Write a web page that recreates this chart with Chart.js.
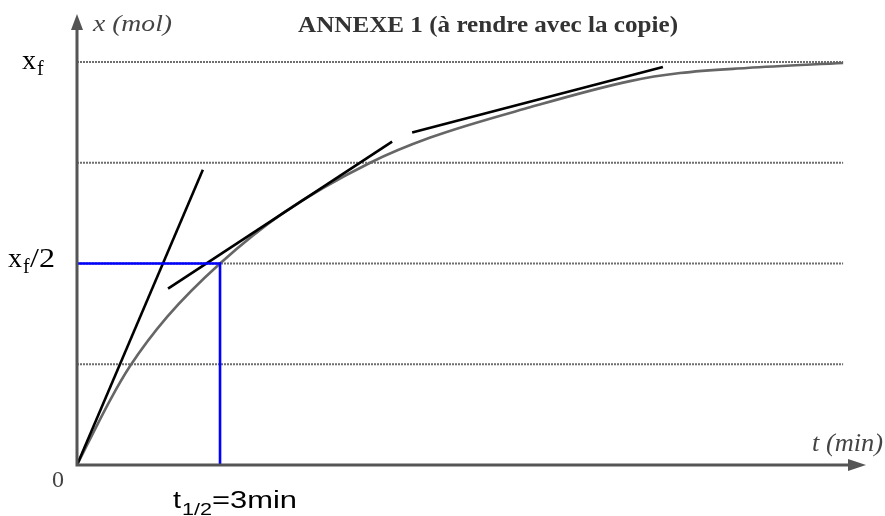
<!DOCTYPE html>
<html>
<head>
<meta charset="utf-8">
<title>Annexe 1</title>
<script src="https://cdn.jsdelivr.net/npm/chart.js@4"></script>
<style>
  html, body { margin: 0; padding: 0; background: #fff; }
  #wrap { width: 885px; height: 516px; }
</style>
</head>
<body>
<div id="wrap"><canvas id="chart" width="885" height="516"></canvas></div>
<script>
// x(t) curve (t in min, x in grid units, xf = 4)
var CURVE_T = [0, 0.69, 1.11, 1.89, 3.00, 4.32, 6.15, 7.41, 9.50, 11.60, 12.65, 14.05, 16.07];
var CURVE_X = [0, 0.64, 0.98, 1.47, 2.00, 2.50, 3.00, 3.25, 3.55, 3.81, 3.89, 3.94, 3.99];

// hand drawn tangents: [start, end]
var TANGENT_T = [[0, 2.64], [1.91, 6.61], [7.03, 12.29]];
var TANGENT_X = [[0, 2.93], [1.75, 3.21], [3.30, 3.95]];

// dotted horizontal guides
var GRID_LEVELS = [1, 2, 3, 4];
var GRID_END = 16.07;

// half reaction time construction
var HALF_T = 3;
var HALF_X = 2;
var XF = 4;

var T_MAX = 16.55;
var X_MAX = 4.476;

(function () {
  'use strict';

  var SERIF = '"Liberation Serif", "DejaVu Serif", serif';
  var SANS = '"Liberation Sans", Arial, sans-serif';
  var AXIS_COLOR = '#555';

  function pts(ts, xs) {
    return ts.map(function (t, i) { return { x: t, y: xs[i] }; });
  }

  // draw text squeezed / stretched horizontally to a given width
  function fitText(ctx, text, font, left, baseline, width, color) {
    ctx.save();
    ctx.font = font;
    ctx.fillStyle = color;
    ctx.textBaseline = 'alphabetic';
    ctx.textAlign = 'left';
    var w = ctx.measureText(text).width;
    ctx.translate(left, baseline);
    ctx.scale(width ? width / w : 1, 1);
    ctx.fillText(text, 0, 0);
    ctx.restore();
  }

  var datasets = [];

  GRID_LEVELS.forEach(function (lvl) {
    datasets.push({
      data: [{ x: 0, y: lvl }, { x: GRID_END, y: lvl }],
      borderColor: '#6e6e6e',
      borderWidth: 2,
      borderDash: [2, 1],
      pointRadius: 0,
      showLine: true,
      order: 4
    });
  });

  datasets.push({
    data: pts(CURVE_T, CURVE_X),
    borderColor: '#666',
    borderWidth: 2.6,
    pointRadius: 0,
    showLine: true,
    cubicInterpolationMode: 'monotone',
    order: 3
  });

  TANGENT_T.forEach(function (seg, i) {
    datasets.push({
      data: pts(seg, TANGENT_X[i]),
      borderColor: '#000',
      borderWidth: 2.6,
      pointRadius: 0,
      showLine: true,
      order: 2
    });
  });

  datasets.push({
    data: [{ x: 0, y: HALF_X }, { x: HALF_T, y: HALF_X }, { x: HALF_T, y: 0 }],
    borderColor: '#0000ff',
    borderWidth: 2.6,
    pointRadius: 0,
    showLine: true,
    order: 1
  });

  // axes with arrows + all the labels of the sheet
  var annexPlugin = {
    id: 'annex',
    afterDatasetsDraw: function (chart) {
      var ctx = chart.ctx;
      var xs = chart.scales.x;
      var ys = chart.scales.y;
      var x0 = xs.getPixelForValue(0);
      var y0 = ys.getPixelForValue(0);
      var top = chart.chartArea.top;
      var right = chart.chartArea.right;

      ctx.save();
      ctx.strokeStyle = AXIS_COLOR;
      ctx.fillStyle = AXIS_COLOR;
      ctx.lineWidth = 3;
      ctx.beginPath();
      ctx.moveTo(x0, y0 + 1.5);
      ctx.lineTo(x0, top + 12);
      ctx.moveTo(x0 - 1.5, y0);
      ctx.lineTo(right - 14, y0);
      ctx.stroke();
      ctx.beginPath();
      ctx.moveTo(x0, top);
      ctx.lineTo(x0 - 6, top + 16);
      ctx.lineTo(x0 + 6, top + 16);
      ctx.closePath();
      ctx.fill();
      ctx.beginPath();
      ctx.moveTo(right, y0);
      ctx.lineTo(right - 18, y0 - 6);
      ctx.lineTo(right - 18, y0 + 6);
      ctx.closePath();
      ctx.fill();
      ctx.restore();

      var yf = ys.getPixelForValue(XF);
      var yh = ys.getPixelForValue(HALF_X);
      var xh = xs.getPixelForValue(HALF_T);

      // left labels
      fitText(ctx, 'x', '28px ' + SERIF, 22, yf + 7, 0, '#000');
      fitText(ctx, 'f', '20px ' + SERIF, 37, yf + 13, 0, '#000');
      fitText(ctx, 'x', '28px ' + SERIF, 8, yh + 4, 0, '#000');
      fitText(ctx, 'f', '20px ' + SERIF, 23, yh + 10, 0, '#000');
      fitText(ctx, '/2', '28px ' + SERIF, 30, yh + 4, 25, '#000');
      fitText(ctx, '0', '24px ' + SERIF, x0 - 25, y0 + 22, 12, '#444');

      // t1/2 label
      fitText(ctx, 't', '23px ' + SANS, xh - 47, y0 + 43, 8, '#000');
      fitText(ctx, '1/2', '17px ' + SANS, xh - 38, y0 + 50, 30, '#000');
      fitText(ctx, '=3min', '23px ' + SANS, xh - 8, y0 + 43, 85, '#000');

      // axis titles and heading
      fitText(ctx, 'x (mol)', 'italic 24px ' + SERIF, x0 + 16, top + 17, 79, '#444');
      fitText(ctx, 't (min)', 'italic 25px ' + SERIF, right - 54, y0 - 14, 71, '#444');
      fitText(ctx, 'ANNEXE 1 (\u00e0 rendre avec la copie)', 'bold 23px ' + SERIF, 298, top + 18, 380, '#333');
    }
  };

  new Chart(document.getElementById('chart'), {
    type: 'scatter',
    data: { datasets: datasets },
    options: {
      responsive: false,
      animation: false,
      layout: { padding: { left: 77, right: 19, top: 14, bottom: 51 } },
      plugins: { legend: { display: false }, tooltip: { enabled: false } },
      scales: {
        x: { type: 'linear', min: 0, max: T_MAX, display: false },
        y: { type: 'linear', min: 0, max: X_MAX, display: false }
      }
    },
    plugins: [annexPlugin]
  });
})();
</script>
</body>
</html>
